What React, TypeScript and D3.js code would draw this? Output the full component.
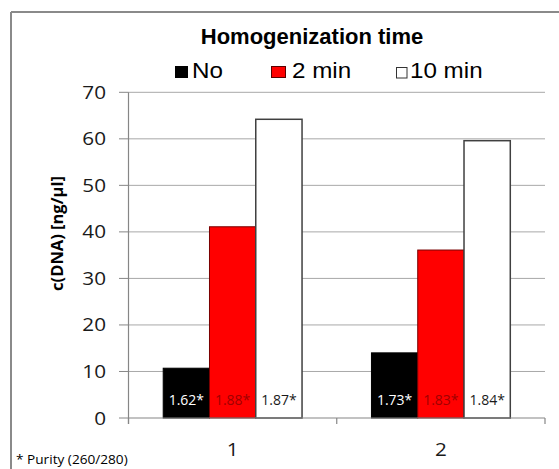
import React from "react";
import * as d3 from "d3";

const categories = ["1", "2"];
const seriesNames = ["No", "2 min", "10 min"];
const noValues = [10.7, 14.0];
const twoMinValues = [41.1, 36.1];
const tenMinValues = [64.2, 59.6];
const purityNo = ["1.62*", "1.73*"];
const purityTwoMin = ["1.88*", "1.83*"];
const purityTenMin = ["1.87*", "1.84*"];
const yTicks = [0, 10, 20, 30, 40, 50, 60, 70];
const titleText = "Homogenization time";
const yAxisTitle = "c(DNA) [ng/µl]";
const footnote = "* Purity (260/280)";

const W = 559;
const H = 469;
const seriesFill = ["#000000", "#ff0000", "#ffffff"];
const seriesStroke = ["#000000", "#7a0000", "#404040"];
const labelColor = ["#ffffff", "#a00000", "#1a1a1a"];

function STxt(props: {
  x: number;
  y: number;
  sx?: number;
  anchor?: string;
  size: number;
  family: string;
  weight?: string | number;
  fill?: string;
  children: React.ReactNode;
}) {
  const { x, y, sx = 1, anchor = "start", size, family, weight = "normal", fill = "#000" } = props;
  return (
    <text
      transform={`translate(${x},${y}) scale(${sx},1)`}
      textAnchor={anchor}
      fontSize={size}
      fontFamily={family}
      fontWeight={weight}
      fill={fill}
    >
      {props.children}
    </text>
  );
}

export default function App() {
  const plotLeft = 128.5;
  const plotRight = 545;
  const yTop = 92.3;
  const yBottom = 418;

  const x0 = d3
    .scaleBand<string>()
    .domain(categories)
    .range([plotLeft, plotRight])
    .paddingInner(1 / 3)
    .paddingOuter(1 / 6);
  const x1 = d3.scaleBand<string>().domain(seriesNames).range([0, x0.bandwidth()]).padding(0);
  const y = d3.scaleLinear().domain([0, 70]).range([yBottom, yTop]);

  const seriesValues = [noValues, twoMinValues, tenMinValues];
  const seriesLabels = [purityNo, purityTwoMin, purityTenMin];
  const step = x0.step();
  const separators = d3.range(categories.length + 1).map((i) => plotLeft + i * step);

  const sans = "'Liberation Sans', Arial, sans-serif";
  const open = "'Open Sans', sans-serif";

  return (
    <svg
      width={W}
      height={H}
      style={{ position: "absolute", left: 0, top: 0, background: "#fff" }}
    >
      <rect x={0} y={0} width={W} height={H} fill="#fff" />
      {/* outer frame */}
      <line x1={11} y1={12} x2={W} y2={12} stroke="#8a8a8a" strokeWidth={2} />
      <line x1={11} y1={12} x2={11} y2={H} stroke="#8a8a8a" strokeWidth={2} />

      {/* title */}
      <STxt x={312} y={44} anchor="middle" size={22} family={sans} weight="bold">
        {titleText}
      </STxt>

      {/* legend */}
      <rect x={175} y={66} width={13} height={12} fill="#000" />
      <STxt x={192} y={78} size={22} family={sans} sx={1.1}>
        {seriesNames[0]}
      </STxt>
      <rect x={271.5} y={66.5} width={14} height={11} fill="#ff0000" stroke="#5a0000" strokeWidth={1} />
      <STxt x={292} y={78} size={22} family={sans} sx={1.1}>
        {seriesNames[1]}
      </STxt>
      <rect x={396.5} y={67.5} width={10.5} height={10.5} fill="#fff" stroke="#333" strokeWidth={1} />
      <STxt x={410} y={78} size={22} family={sans} sx={1.1}>
        {seriesNames[2]}
      </STxt>

      {/* gridlines and y ticks */}
      {yTicks.map((t) => (
        <g key={t}>
          {t > 0 && (
            <line x1={plotLeft} x2={plotRight} y1={y(t)} y2={y(t)} stroke="#a8a8a8" strokeWidth={1} />
          )}
          <line x1={119} x2={plotLeft} y1={y(t)} y2={y(t)} stroke="#868686" strokeWidth={1} />
          <STxt x={106} y={y(t) + 6.5} anchor="end" size={18} family={open} sx={1.15} fill="#1a1a1a">
            {t}
          </STxt>
        </g>
      ))}

      {/* bars */}
      {categories.map((c, ci) => (
        <g key={c} transform={`translate(${x0(c)},0)`}>
          {seriesNames.map((s, si) => {
            const v = seriesValues[si][ci];
            const bx = x1(s) as number;
            return (
              <g key={s}>
                <rect
                  x={bx}
                  y={y(v)}
                  width={x1.bandwidth()}
                  height={y(0) - y(v)}
                  fill={seriesFill[si]}
                  stroke={seriesStroke[si]}
                  strokeWidth={si === 2 ? 1.5 : 1}
                />
                <STxt
                  x={bx + x1.bandwidth() / 2}
                  y={405}
                  anchor="middle"
                  size={14}
                  family={open}
                  fill={labelColor[si]}
                >
                  {seriesLabels[si][ci]}
                </STxt>
              </g>
            );
          })}
        </g>
      ))}

      {/* axes */}
      <line x1={plotLeft} x2={plotLeft} y1={yTop} y2={yBottom + 6} stroke="#868686" strokeWidth={1.2} />
      <line x1={plotLeft} x2={plotRight} y1={yBottom} y2={yBottom} stroke="#868686" strokeWidth={1.2} />
      {separators.map((sx, i) => (
        <line key={i} x1={sx} x2={sx} y1={yBottom} y2={yBottom + 6} stroke="#868686" strokeWidth={1.2} />
      ))}

      {/* category labels */}
      {categories.map((c) => (
        <STxt
          key={c}
          x={(x0(c) as number) + x0.bandwidth() / 2}
          y={456}
          anchor="middle"
          size={18}
          family={open}
          sx={1.15}
          fill="#1a1a1a"
        >
          {c}
        </STxt>
      ))}

      {/* y axis title */}
      <text
        transform={`translate(63,233.5) rotate(-90)`}
        textAnchor="middle"
        fontSize={16.5}
        fontFamily={open}
        fontWeight="bold"
        fill="#000"
      >
        {yAxisTitle}
      </text>

      {/* footnote */}
      <STxt x={16} y={464} size={13} family={open} sx={1.05} fill="#000">
        {footnote}
      </STxt>
    </svg>
  );
}
